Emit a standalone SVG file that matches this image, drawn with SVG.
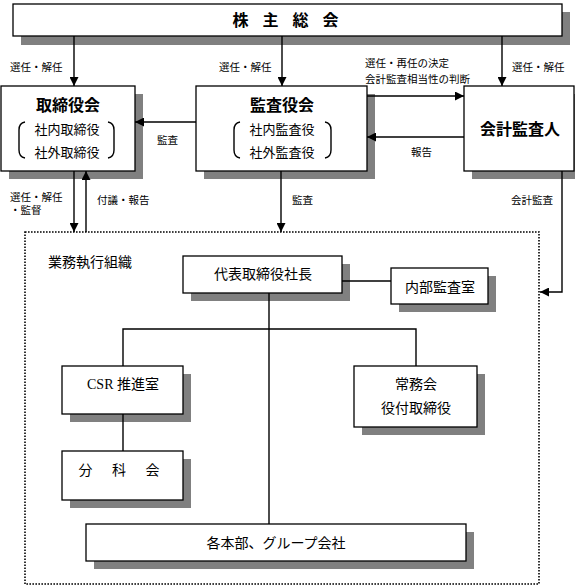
<svg xmlns="http://www.w3.org/2000/svg" width="575" height="587" viewBox="0 0 575 587">
<style>
text{font-family:"Liberation Serif","Noto Sans CJK JP",serif;fill:#000}
.box{fill:#fff;stroke:#000;stroke-width:1.3}
.sh{fill:#808080}
.t16{font-size:16px;font-weight:bold}
.t13{font-size:13px}
.t14{font-size:14px}
.lb{font-size:10.5px}
.c{text-anchor:middle;dominant-baseline:central}
.l{dominant-baseline:central}
.ln{stroke:#000;stroke-width:1.4;fill:none}
.ar{stroke:#000;stroke-width:1.4;fill:none;marker-end:url(#ah)}
.dot{fill:none;stroke:#000;stroke-width:1.6;stroke-dasharray:1.6 1.4}
</style>
<defs>
<marker id="ah" viewBox="0 0 10 10" refX="10" refY="5" markerWidth="9" markerHeight="9" markerUnits="userSpaceOnUse" orient="auto">
<path d="M0,0 L10,5 L0,10 z" fill="#000"/>
</marker>
</defs>
<rect width="575" height="587" fill="#fff"/>

<g id="shareholders">
<rect class="sh" x="21" y="12" width="549" height="33"/>
<rect class="box" x="13" y="4" width="549" height="32" stroke-width="1"/>
<text class="c t16" x="288" y="20" letter-spacing="5">株 主 総 会</text>
</g>

<g id="board">
<rect class="sh" x="9" y="94" width="134" height="85"/>
<rect class="box" x="1" y="86" width="134" height="85"/>
<text class="c t16" x="68" y="105">取締役会</text>
<text class="c t13" x="67" y="129">社内取締役</text>
<text class="c t13" x="67" y="152">社外取締役</text>
<path class="ln" d="M25,122 Q19,123 19,130 L19,150 Q19,157 25,158"/>
<path class="ln" d="M108,122 Q114,123 114,130 L114,150 Q114,157 108,158"/>
</g>

<g id="auditors">
<rect class="sh" x="204" y="94" width="171" height="85"/>
<rect class="box" x="196" y="86" width="171" height="85"/>
<text class="c t16" x="282" y="105">監査役会</text>
<text class="c t13" x="282" y="129">社内監査役</text>
<text class="c t13" x="282" y="152">社外監査役</text>
<path class="ln" d="M240,122 Q234,123 234,130 L234,150 Q234,157 240,158"/>
<path class="ln" d="M325,122 Q331,123 331,130 L331,150 Q331,157 325,158"/>
</g>

<g id="accounting-auditor">
<rect class="sh" x="472" y="94" width="110" height="85"/>
<rect class="box" x="464" y="86" width="110" height="85"/>
<text class="c t16" x="520" y="129" font-weight="normal">会計監査人</text>
</g>

<g id="exec-org">
<rect class="dot" x="25" y="232" width="514" height="352"/>
<text class="l t14" x="48" y="262">業務執行組織</text>
</g>

<g id="president">
<rect class="sh" x="191" y="264" width="159" height="37"/>
<rect class="box" x="183" y="256" width="159" height="37"/>
<text class="c t14" x="263" y="274">代表取締役社長</text>
</g>

<g id="internal-audit">
<rect class="sh" x="399" y="276" width="97" height="36"/>
<rect class="box" x="391" y="268" width="97" height="36"/>
<text class="c t14" x="440" y="287">内部監査室</text>
</g>

<g id="csr">
<rect class="sh" x="70" y="374" width="121" height="48"/>
<rect class="box" x="62" y="366" width="121" height="48"/>
<text class="c t14" x="123" y="384">CSR 推進室</text>
</g>

<g id="executive-committee">
<rect class="sh" x="362" y="374" width="123" height="61"/>
<rect class="box" x="354" y="366" width="123" height="61"/>
<text class="c t14" x="416" y="384">常務会</text>
<text class="c t14" x="416" y="408">役付取締役</text>
</g>

<g id="subcommittee">
<rect class="sh" x="70" y="459" width="121" height="49"/>
<rect class="box" x="62" y="451" width="121" height="49"/>
<text class="c t14" x="123" y="470" letter-spacing="8">分 科 会</text>
</g>

<g id="divisions">
<rect class="sh" x="94" y="532" width="380" height="37"/>
<rect class="box" x="86" y="524" width="380" height="37"/>
<text class="c t14" x="276" y="543">各本部、グループ会社</text>
</g>

<g id="connectors">
<line class="ar" x1="74" y1="36" x2="74" y2="86"/>
<line class="ar" x1="282" y1="36" x2="282" y2="86"/>
<line class="ar" x1="502" y1="36" x2="502" y2="86"/>
<line class="ar" x1="196" y1="122" x2="135" y2="122"/>
<line class="ar" x1="367" y1="96" x2="464" y2="96"/>
<line class="ar" x1="464" y1="137" x2="367" y2="137"/>
<line class="ar" x1="74" y1="171" x2="74" y2="232"/>
<line class="ar" x1="86" y1="232" x2="86" y2="171"/>
<line class="ar" x1="281" y1="171" x2="281" y2="232"/>
<polyline class="ar" points="562,171 562,292 540,292"/>
<line class="ln" x1="342" y1="281" x2="391" y2="281"/>
<line class="ln" x1="269" y1="293" x2="269" y2="524"/>
<polyline class="ln" points="123,366 123,329 416,329 416,366"/>
<line class="ln" x1="123" y1="414" x2="123" y2="451"/>
</g>

<g id="labels">
<text class="l lb" x="10" y="67">選任・解任</text>
<text class="l lb" x="219" y="67">選任・解任</text>
<text class="l lb" x="512" y="67">選任・解任</text>
<text class="l lb" x="365" y="63">選任・再任の決定</text>
<text class="l lb" x="365" y="79">会計監査相当性の判断</text>
<text class="l lb" x="157" y="140">監査</text>
<text class="l lb" x="411" y="152">報告</text>
<text class="l lb" x="10" y="197">選任・解任</text>
<text class="l lb" x="10" y="210">・監督</text>
<text class="l lb" x="97" y="200">付議・報告</text>
<text class="l lb" x="292" y="200">監査</text>
<text class="l lb" x="511" y="200">会計監査</text>
</g>
</svg>
